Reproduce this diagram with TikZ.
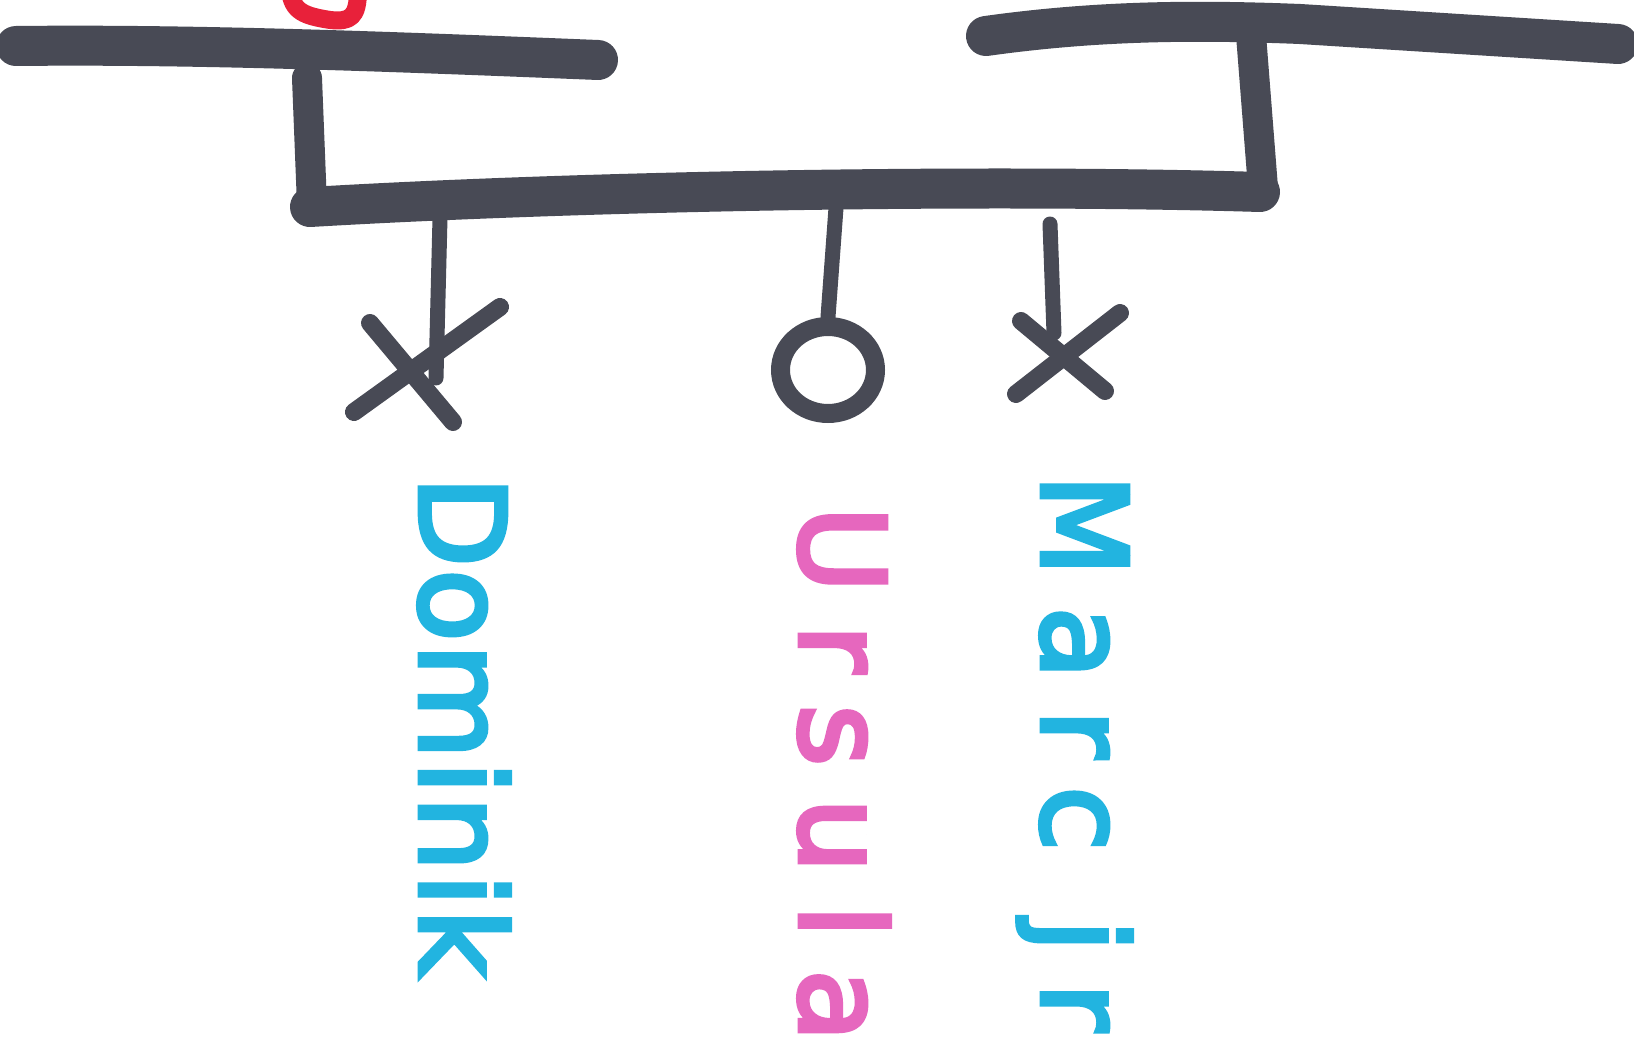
\documentclass[tikz,border=0pt]{standalone}
\usepackage{fontspec}
\setmainfont{DejaVu Sans}
\usetikzlibrary{shapes.geometric}
\definecolor{ink}{HTML}{484A55}
\definecolor{cyanink}{HTML}{22B4E0}
\definecolor{pinkink}{HTML}{E667BE}
\definecolor{redink}{HTML}{E8213A}
\begin{document}
\begin{tikzpicture}[x=1pt,y=-1pt,
  bar/.style={draw=ink, line width=40pt, line cap=round},
  stem/.style={draw=ink, line width=30pt, line cap=round},
  drop/.style={draw=ink, line width=15pt, line cap=round},
  cross/.style={draw=ink, line width=18pt, line cap=round},
  ring/.style={draw=ink, line width=19pt},
  namelbl/.style={rotate=-90, anchor=base west, inner sep=0pt, font=\fontsize{118}{120}\selectfont}]
\useasboundingbox (0,0) rectangle (1634,1040);
\fill[white] (0,0) rectangle (1634,1040);

% red shape (partially visible)
\draw[redink, line width=18pt, line cap=round, line join=round]
  (290,-10) .. controls (292,12) and (305,16) .. (330,20) .. controls (350,22) and (358,18) .. (358,-10);

% coordinates of the tree
\coordinate (tlL) at (16,46);
\coordinate (tlR) at (598,60);
\coordinate (lstemT) at (307,78);
\coordinate (lstemB) at (312,205);
\coordinate (midL) at (310,207);
\coordinate (midR) at (1260,192);
\coordinate (rstemT) at (1250,22);
\coordinate (rstemB) at (1263,188);
\coordinate (trL) at (986,36);
\coordinate (trR) at (1618,44);

\draw[bar] (tlL) .. controls (200,44) and (400,52) .. (tlR);
\draw[bar] (trL) .. controls (1100,20) and (1200,20) .. (1300,24) -- (trR);
\draw[stem] (lstemT) -- (lstemB);
\draw[stem] (rstemT) -- (rstemB);
\draw[bar] (midL) .. controls (600,190) and (1000,184) .. (midR);

% children markers
\coordinate (dom) at (422,365);
\coordinate (urs) at (828,370);
\coordinate (marc) at (1066,354);

\coordinate (domTop) at (440,218);
\coordinate (ursTop) at (836,208);
\coordinate (marcTop) at (1050,224);

\draw[drop] (domTop) -- (436,378);
\draw[cross] (354,412) -- (500,307);
\draw[cross] (370,323) -- (453,422);

\node[ring, ellipse, minimum width=95pt, minimum height=87pt, inner sep=0pt] (ursSym) at (urs) {};
\draw[drop] (ursTop) -- (ursSym.north);

\draw[drop] (marcTop) -- (1054,333);
\draw[cross] (1016,394) -- (1120,313);
\draw[cross] (1021,321) -- (1105,391);

% names
\node[namelbl, text=cyanink] (domName) at (420,476) {\addfontfeatures{LetterSpace=2,FakeBold=4}Dominik};
\node[namelbl, text=pinkink] (ursName) at (800,506) {\addfontfeatures{LetterSpace=27,FakeBold=4}Ursula};
\node[namelbl, text=cyanink] (marcName) at (1042,474) {\addfontfeatures{LetterSpace=26,FakeBold=4}Marc jr};
\end{tikzpicture}
\end{document}
